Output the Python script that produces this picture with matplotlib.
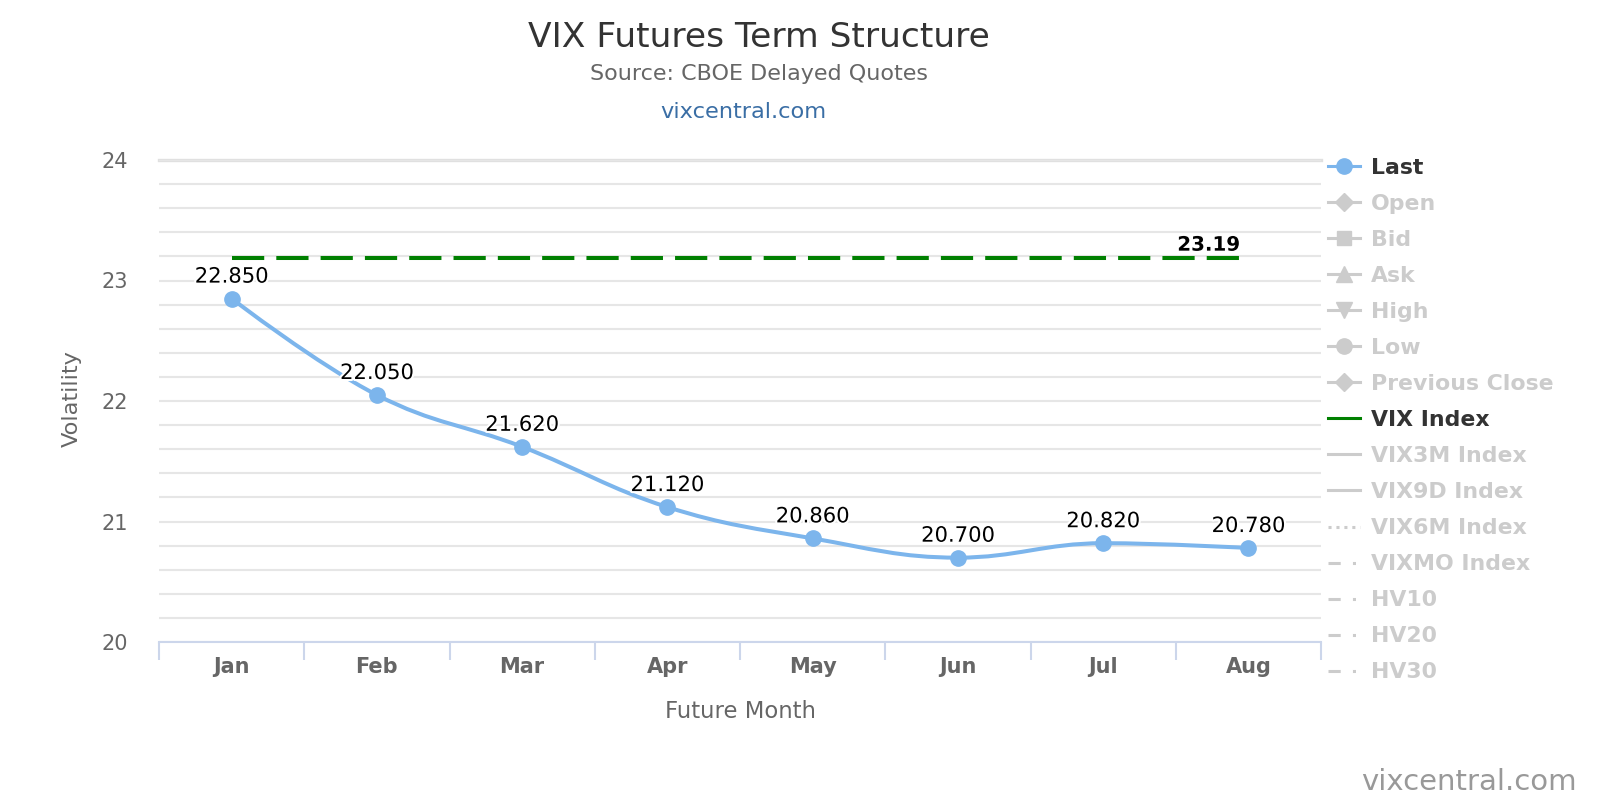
# -*- coding: utf-8 -*-

import matplotlib
matplotlib.use("Agg")
import matplotlib.pyplot as plt
import matplotlib.patheffects as pe
from matplotlib.path import Path
from matplotlib.patches import PathPatch
from matplotlib.lines import Line2D
from matplotlib.ticker import FixedLocator, MultipleLocator

# =========================
# 数据
months = ["Jan", "Feb", "Mar", "Apr", "May", "Jun", "Jul", "Aug"]
last = [22.850, 22.050, 21.620, 21.120, 20.860, 20.700, 20.820, 20.780]
vix_index = 23.19

legend_names = ["Last", "Open", "Bid", "Ask", "High", "Low", "Previous Close",
                "VIX Index", "VIX3M Index", "VIX9D Index", "VIX6M Index",
                "VIXMO Index", "HV10", "HV20", "HV30"]

BLUE = "#7cb5ec"
GREEN = "#008000"
GREY = "#cccccc"


# =========================
# Highcharts 风格的样条曲线
def spline_path(xs, ys, smoothing=1.5):
    n = len(xs)
    left, right = [None] * n, [None] * n
    d = smoothing + 1
    for i in range(1, n - 1):
        lx, ly = xs[i - 1], ys[i - 1]
        nx, ny = xs[i + 1], ys[i + 1]
        px, py = xs[i], ys[i]
        lcx, lcy = (smoothing * px + lx) / d, (smoothing * py + ly) / d
        rcx, rcy = (smoothing * px + nx) / d, (smoothing * py + ny) / d
        if rcx != lcx:
            corr = ((rcy - lcy) * (rcx - px)) / (rcx - lcx) + py - rcy
            lcy += corr
            rcy += corr
        if lcy > ly and lcy > py:
            lcy = max(ly, py); rcy = 2 * py - lcy
        elif lcy < ly and lcy < py:
            lcy = min(ly, py); rcy = 2 * py - lcy
        if rcy > ny and rcy > py:
            rcy = max(ny, py); lcy = 2 * py - rcy
        elif rcy < ny and rcy < py:
            rcy = min(ny, py); lcy = 2 * py - rcy
        left[i], right[i] = (lcx, lcy), (rcx, rcy)

    verts = [(xs[0], ys[0])]
    codes = [Path.MOVETO]
    for i in range(1, n):
        c1 = right[i - 1] or (xs[i - 1], ys[i - 1])
        c2 = left[i] or (xs[i], ys[i])
        verts += [c1, c2, (xs[i], ys[i])]
        codes += [Path.CURVE4] * 3
    return Path(verts, codes)


def main():
    plt.rcParams["font.family"] = ["DejaVu Sans"]

    fig = plt.figure(figsize=(16, 8), dpi=100)
    ax = fig.add_axes([159 / 1600, 1 - 642 / 800, 1162 / 1600, 482 / 800])

    x = list(range(len(months)))

    # ===== 网格与坐标轴 =====
    ax.set_xlim(-0.5, len(months) - 0.5)
    ax.set_ylim(20, 24)
    ax.yaxis.set_major_locator(FixedLocator([20, 21, 22, 23, 24]))
    ax.yaxis.set_minor_locator(MultipleLocator(0.2))
    ax.grid(which="both", axis="y", color="#e6e6e6", linewidth=1.5)
    ax.axhline(24, color="#e0e0e0", linewidth=2.4, clip_on=False, zorder=0)
    ax.set_axisbelow(True)
    for s in ["top", "right", "left"]:
        ax.spines[s].set_visible(False)
    ax.spines["bottom"].set_color("#ccd6eb")
    ax.spines["bottom"].set_linewidth(1.5)

    ax.set_xticks(x)
    ax.set_xticklabels(months, fontsize=15, fontweight="bold", color="#666666")
    ax.set_xticks([i - 0.5 for i in range(len(months) + 1)], minor=True)
    ax.tick_params(axis="x", which="major", length=0, pad=11)
    ax.tick_params(axis="x", which="minor", length=13, width=1.5, color="#ccd6eb")
    ax.tick_params(axis="y", which="both", length=0, pad=22, labelsize=15, labelcolor="#666666")

    # ===== VIX Index 虚线 =====
    ax.plot([x[0], x[-1]], [vix_index, vix_index], color=GREEN, linewidth=2.9,
            dashes=(8, 3), zorder=3)
    ax.annotate(f"{vix_index:.2f}", (x[-1], vix_index), xytext=(-6, 5),
                textcoords="offset points", ha="right", va="baseline",
                fontsize=14.3, fontweight="bold", color="black",
                path_effects=[pe.withStroke(linewidth=3, foreground="white")], zorder=5)

    # ===== Last 样条曲线 =====
    ax.add_patch(PathPatch(spline_path(x, last), facecolor="none", edgecolor=BLUE,
                           linewidth=2.9, zorder=4, capstyle="round"))
    ax.plot(x, last, linestyle="none", marker="o", markersize=11, color=BLUE, zorder=5)
    for xi, v in zip(x, last):
        ax.annotate(f"{v:.3f}", (xi, v), xytext=(0, 11.5), textcoords="offset points",
                    ha="center", va="baseline", fontsize=15.2, color="black",
                    path_effects=[pe.withStroke(linewidth=3, foreground="white")], zorder=6)

    # ===== 图例 =====
    lw = 2.2
    handles = [
        Line2D([], [], color=BLUE, lw=lw, marker="o", markersize=11),
        Line2D([], [], color=GREY, lw=lw, marker="D", markersize=9),
        Line2D([], [], color=GREY, lw=lw, marker="s", markersize=10),
        Line2D([], [], color=GREY, lw=lw, marker="^", markersize=11),
        Line2D([], [], color=GREY, lw=lw, marker="v", markersize=11),
        Line2D([], [], color=GREY, lw=lw, marker="o", markersize=11),
        Line2D([], [], color=GREY, lw=lw, marker="D", markersize=9),
        Line2D([], [], color=GREEN, lw=lw),
        Line2D([], [], color=GREY, lw=lw),
        Line2D([], [], color=GREY, lw=lw),
        Line2D([], [], color=GREY, lw=lw, dashes=(1, 1.6)),
        Line2D([], [], color=GREY, lw=lw, dashes=(4, 4, 1, 4)),
        Line2D([], [], color=GREY, lw=lw, dashes=(4, 4, 1, 4)),
        Line2D([], [], color=GREY, lw=lw, dashes=(4, 4, 1, 4)),
        Line2D([], [], color=GREY, lw=lw, dashes=(4, 4, 1, 4)),
    ]
    colors = ["#333333" if n in ("Last", "VIX Index") else GREY for n in legend_names]
    fig.legend(handles, legend_names, loc="upper left",
               bbox_to_anchor=(1328 / 1600, 1 - 158 / 800), frameon=False,
               prop={"weight": "bold", "size": 15.8}, labelcolor=colors,
               handlelength=1.45, handletextpad=0.5, labelspacing=0.73,
               borderpad=0, borderaxespad=0)

    # ===== 标题与文字 =====
    fig.text(759 / 1600, 1 - 47 / 800, "VIX Futures Term Structure", ha="center",
             va="baseline", fontsize=24.8, color="#333333")
    fig.text(759 / 1600, 1 - 80 / 800, "Source: CBOE Delayed Quotes", ha="center",
             va="baseline", fontsize=16, color="#666666")
    fig.text(743 / 1600, 1 - 118 / 800, "vixcentral.com", ha="center",
             va="baseline", fontsize=16.2, color="#3a6ea5")
    fig.text(72 / 1600, 1 - 398 / 800, "Volatility", ha="center", va="center",
             rotation=90, fontsize=16.2, color="#666666")
    fig.text(740 / 1600, 1 - 718 / 800, "Future Month", ha="center",
             va="baseline", fontsize=16.4, color="#666666")
    fig.text(1577 / 1600, 1 - 790 / 800, "vixcentral.com", ha="right",
             va="baseline", fontsize=21, color="#999999")

    fig.savefig("out.png", dpi=100)
    plt.close(fig)


if __name__ == "__main__":
    main()
